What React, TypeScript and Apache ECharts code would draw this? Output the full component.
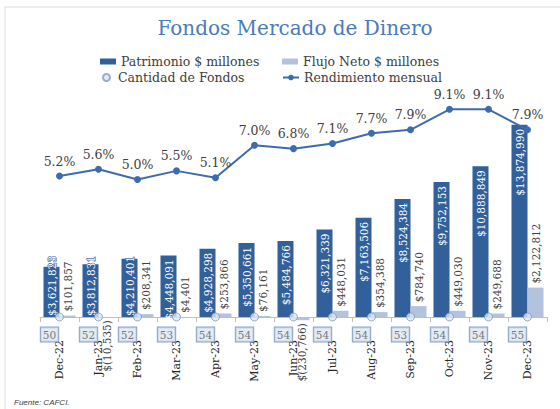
import React, { useEffect, useRef } from "react";
import * as echarts from "echarts";

const categories = ["Dec-22", "Jan-23", "Feb-23", "Mar-23", "Apr-23", "May-23", "Jun-23", "Jul-23", "Aug-23", "Sep-23", "Oct-23", "Nov-23", "Dec-23"];
const patrimonio = [3621823, 3812831, 4210401, 4448091, 4928298, 5350661, 5484766, 6321339, 7163506, 8524384, 9752153, 10888849, 13874990];
const flujoNeto = [101857, -10535, 208341, 4401, 253866, 76161, -230766, 448031, 354388, 784740, 449030, 249688, 2122812];
const cantidadFondos = [50, 52, 52, 53, 54, 54, 54, 54, 54, 53, 54, 54, 55];
const rendimiento = [5.2, 5.6, 5.0, 5.5, 5.1, 7.0, 6.8, 7.1, 7.7, 7.9, 9.1, 9.1, 7.9];

const SERIF = "DejaVu Serif";
const DARK = "#31609A";
const LIGHT = "#B3C3DE";
const LINE = "#3C6CAD";

const withCommas = (n: number) => String(Math.abs(n)).replace(/\B(?=(\d{3})+(?!\d))/g, ",");
const money = (v: number) => (v < 0 ? `$(${withCommas(v)})` : `$${withCommas(v)}`);

const legendText = () => ({ fontFamily: SERIF, fontSize: 12.5, color: "#404040" });

export default function App() {
  const ref = useRef<HTMLDivElement>(null);
  useEffect(() => {
    if (!ref.current) return;
    const chart = echarts.init(ref.current, null, { renderer: "svg" });
    const option: any = {
      animation: false,
      backgroundColor: "#ffffff",
      textStyle: { fontFamily: SERIF },
      graphic: [
        { type: "rect", shape: { x: 5, y: 7, width: 700, height: 500 }, style: { fill: "none", stroke: "#DCDCDC", lineWidth: 1 }, silent: true, z: -10 },
        { type: "text", x: 295, y: 28, style: { text: "Fondos Mercado de Dinero", fill: "#4A7BBA", font: `20px "${SERIF}"`, align: "center", verticalAlign: "middle" } },
        { type: "text", x: 14, y: 402, style: { text: "Fuente: CAFCI.", fill: "#404040", font: `italic 8px "Liberation Sans"`, align: "left", verticalAlign: "middle" } },
      ],
      legend: [
        { left: 95, top: 50, data: ["Patrimonio $ millones"], itemWidth: 16, itemHeight: 6, selectedMode: false, textStyle: legendText(), icon: "rect" },
        { left: 277, top: 50, data: ["Flujo Neto $ millones"], itemWidth: 16, itemHeight: 6, selectedMode: false, textStyle: legendText(), icon: "rect" },
        { left: 97, top: 66, data: ["Cantidad de Fondos"], itemWidth: 13, itemHeight: 7, selectedMode: false, textStyle: legendText() },
        { left: 277, top: 66, data: ["Rendimiento mensual"], itemWidth: 16, itemHeight: 7, selectedMode: false, textStyle: legendText() },
      ],
      grid: { left: 40, width: 507, top: 95, bottom: 92, containLabel: false },
      xAxis: {
        type: "category",
        data: categories,
        boundaryGap: true,
        axisLine: { lineStyle: { color: "#BFBFBF", width: 1 } },
        axisTick: { show: true, length: 5, interval: 0, lineStyle: { color: "#BFBFBF" } },
        axisLabel: { rotate: 90, interval: 0, margin: 23, fontSize: 11, fontFamily: SERIF, color: "#262626" },
        splitLine: { show: false },
      },
      yAxis: [
        { type: "value", min: 0, max: 16030000, show: false, splitLine: { show: false } },
        { type: "value", min: -3.045, max: 9.937, show: false, splitLine: { show: false } },
      ],
      series: [
        {
          name: "Patrimonio $ millones",
          type: "bar",
          barWidth: 16,
          barGap: "0%",
          itemStyle: { color: DARK },
          label: {
            show: true, rotate: 90, position: "insideTop", align: "right", verticalAlign: "middle",
            distance: 4, fontSize: 10.5, fontFamily: SERIF, color: "#ffffff",
            formatter: (p: any) => money(p.value),
          },
          data: patrimonio.map((v) =>
            v < 4300000
              ? { value: v, label: { position: "insideBottom", align: "left", distance: 1, textBorderColor: DARK, textBorderWidth: 1.2 } }
              : v
          ),
          z: 2,
        },
        {
          name: "Flujo Neto $ millones",
          type: "bar",
          barWidth: 16,
          barGap: "0%",
          clip: false,
          itemStyle: { color: LIGHT },
          label: {
            show: true, rotate: 90, position: "top", align: "left", verticalAlign: "middle",
            distance: 4, fontSize: 10.5, fontFamily: SERIF, color: "#404040",
            formatter: (p: any) => money(p.value),
          },
          data: flujoNeto.map((v) =>
            v < 0 ? { value: v, label: { position: "bottom", align: "right", distance: 3 } } : v
          ),
          z: 2,
        },
        {
          name: "Cantidad de Fondos",
          type: "scatter",
          clip: false,
          symbol: "circle",
          symbolSize: 8,
          itemStyle: { color: "#DCE6F2", borderColor: "#7F9CC0", borderWidth: 1 },
          label: {
            show: true, position: "bottom", distance: 6, offset: [-10, 0],
            fontSize: 10.5, fontFamily: SERIF, color: "#595959",
            backgroundColor: "#DCE6F2", borderColor: "#6F8DB5", borderWidth: 1, padding: [2, 2, 1, 2],
            formatter: (p: any) => String(p.value[2]),
          },
          data: cantidadFondos.map((c, i) => [categories[i], 0, c]),
          z: 5,
        },
        {
          name: "Rendimiento mensual",
          type: "line",
          yAxisIndex: 1,
          symbol: "circle",
          symbolSize: 7,
          lineStyle: { color: LINE, width: 2 },
          itemStyle: { color: LINE },
          label: {
            show: true, position: "top", distance: 5, fontSize: 12.5, fontFamily: SERIF, color: "#404040",
            formatter: (p: any) => `${Number(p.value).toFixed(1)}%`,
          },
          data: rendimiento,
          z: 6,
        },
      ],
    };
    chart.setOption(option);
    return () => chart.dispose();
  }, []);
  return <div ref={ref} style={{ position: "fixed", left: 0, top: 0, width: 560, height: 409 }} />;
}
